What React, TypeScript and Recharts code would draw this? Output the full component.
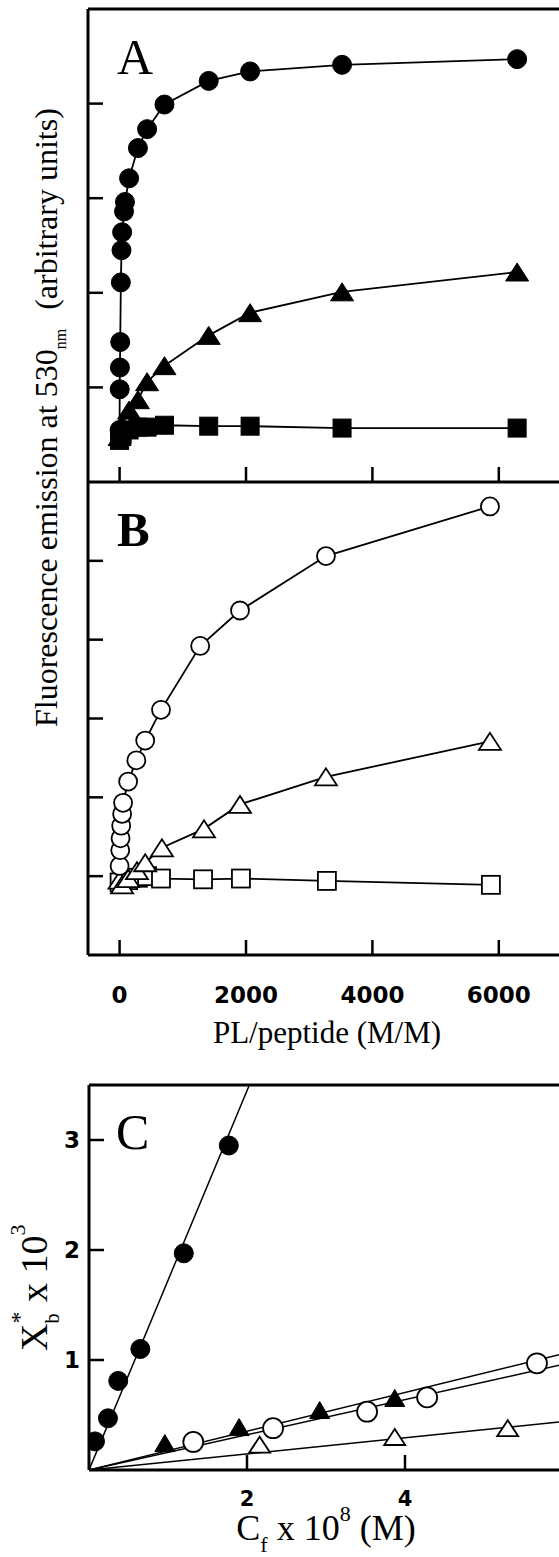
import React from 'react';
import { ComposedChart, Scatter, XAxis, YAxis, ReferenceLine } from 'recharts';

// ---------- Panel A (filled symbols) ----------
const A_CIRCLE_X = [0, 2, 5, 10, 20, 30, 40, 70, 85, 150, 290, 435, 710, 1410, 2065, 3520, 6290];
const A_CIRCLE_Y = [0.55, 0.98, 1.21, 1.48, 2.11, 2.45, 2.64, 2.86, 2.96, 3.21, 3.53, 3.73, 3.99, 4.24, 4.34, 4.41, 4.47];
const A_TRI_X = [0, 40, 150, 290, 435, 710, 1410, 2065, 3520, 6290];
const A_TRI_Y = [0.48, 0.6, 0.76, 0.87, 1.06, 1.23, 1.55, 1.79, 2.01, 2.22];
const A_SQ_X = [0, 40, 150, 290, 435, 710, 1410, 2065, 3520, 6290];
const A_SQ_Y = [0.44, 0.5, 0.55, 0.58, 0.58, 0.6, 0.59, 0.59, 0.57, 0.57];

// ---------- Panel B (open symbols) ----------
const B_CIRCLE_X = [0, 10, 15, 25, 40, 55, 135, 265, 405, 655, 1275, 1905, 3265, 5860];
const B_CIRCLE_Y = [0.13, 0.33, 0.48, 0.64, 0.79, 0.93, 1.2, 1.47, 1.72, 2.11, 2.92, 3.37, 4.06, 4.69];
const B_TRI_X = [0, 40, 135, 275, 405, 670, 1335, 1905, 3265, 5860];
const B_TRI_Y = [-0.05, -0.11, -0.03, 0.07, 0.17, 0.36, 0.6, 0.91, 1.26, 1.71];
const B_SQ_X = [0, 135, 290, 435, 655, 1320, 1920, 3280, 5875];
const B_SQ_Y = [-0.08, -0.05, -0.02, 0.0, -0.03, -0.04, -0.03, -0.06, -0.11];

// ---------- Panel C ----------
const C_FCIRCLE_X = [0.076, 0.24, 0.37, 0.65, 1.2, 1.77];
const C_FCIRCLE_Y = [0.26, 0.47, 0.81, 1.1, 1.97, 2.95];
const C_FTRI_X = [0.96, 1.9, 2.92, 3.87];
const C_FTRI_Y = [0.245, 0.39, 0.545, 0.655];
const C_OCIRCLE_X = [1.32, 2.33, 3.52, 4.28, 5.67];
const C_OCIRCLE_Y = [0.255, 0.38, 0.53, 0.66, 0.97];
const C_OTRI_X = [2.16, 3.87, 5.3];
const C_OTRI_Y = [0.23, 0.3, 0.38];
// fitted straight lines (end points)
const C_FIT_FCIRCLE_X = [0, 2.03];
const C_FIT_FCIRCLE_Y = [0, 3.5];
const C_FIT_FTRI_X = [0, 6];
const C_FIT_FTRI_Y = [0, 1.056];
const C_FIT_OCIRCLE_X = [0, 6];
const C_FIT_OCIRCLE_Y = [0, 0.96];
const C_FIT_OTRI_X = [0, 6];
const C_FIT_OTRI_Y = [0, 0.44];

// ---------- ticks ----------
const AB_X_TICKS = [0, 2000, 4000, 6000];
const A_Y_TICKS = [1, 2, 3, 4];
const B_Y_TICKS = [0, 1, 2, 3, 4];
const C_X_TICKS = [2, 4];
const C_Y_TICKS = [1, 2, 3];

const SERIF = '"Liberation Serif", "Times New Roman", serif';
const SANS = '"DejaVu Sans", sans-serif';

const zip = (xs: number[], ys: number[]) => xs.map((x, i) => ({ x, y: ys[i] }));

const filledCircle = (r: number) => (p: any) => (
  <circle cx={p.cx} cy={p.cy} r={r} fill="#000" stroke="#000" strokeWidth={1} />
);
const openCircle = (r: number) => (p: any) => (
  <circle cx={p.cx} cy={p.cy} r={r} fill="#fff" stroke="#000" strokeWidth={1.8} />
);
const triangle = (w: number, h: number, filled: boolean) => (p: any) => (
  <polygon
    points={`${p.cx},${p.cy - h / 2} ${p.cx - w / 2},${p.cy + h / 2} ${p.cx + w / 2},${p.cy + h / 2}`}
    fill={filled ? '#000' : '#fff'}
    stroke="#000"
    strokeWidth={filled ? 1 : 1.8}
  />
);
const square = (s: number, filled: boolean) => (p: any) => (
  <rect
    x={p.cx - s / 2}
    y={p.cy - s / 2}
    width={s}
    height={s}
    fill={filled ? '#000' : '#fff'}
    stroke="#000"
    strokeWidth={filled ? 1 : 1.8}
  />
);
const noShape = () => <g />;

const AXIS = { stroke: '#000', strokeWidth: 3 };
const CONNECT = { stroke: '#000', strokeWidth: 1.8 };
const FIT = { stroke: '#000', strokeWidth: 1.5 };

// inward y ticks
const yTick = (axisX: number, label: boolean, fs: number, labelRight: number) => (p: any) => (
  <g>
    <line x1={axisX} x2={axisX + 15} y1={p.y} y2={p.y} stroke="#000" strokeWidth={2.5} />
    {label && (
      <text
        x={labelRight}
        y={p.y + fs * 0.36}
        textAnchor="end"
        fontFamily={SANS}
        fontWeight="bold"
        fontSize={fs}
        fill="#000"
      >
        {p.payload.value}
      </text>
    )}
  </g>
);
// inward x ticks
const xTick = (axisY: number, label: boolean, fs: number, labelY: number) => (p: any) => (
  <g>
    <line x1={p.x} x2={p.x} y1={axisY} y2={axisY - 15} stroke="#000" strokeWidth={2.5} />
    {label && (
      <text
        x={p.x}
        y={labelY}
        textAnchor="middle"
        fontFamily={SANS}
        fontWeight="bold"
        fontSize={fs}
        fill="#000"
      >
        {p.payload.value}
      </text>
    )}
  </g>
);

const TextsA = () => (
  <g>
    <text x={117} y={74} fontFamily={SERIF} fontSize={50} fill="#000">
      A
    </text>
  </g>
);

const TextsB = () => (
  <g>
    <text x={117} y={546} fontFamily={SERIF} fontWeight="bold" fontSize={49} fill="#000">
      B
    </text>
    <text
      transform="rotate(-90 57 727)"
      x={57}
      y={727}
      fontFamily={SERIF}
      fontSize={32}
      fill="#000"
    >
      Fluorescence emission at 530
      <tspan fontSize={16} dy={9}>
        nm
      </tspan>
      <tspan dx={19} dy={-9}>
        (arbitrary units)
      </tspan>
    </text>
    <text x={327} y={1043} textAnchor="middle" fontFamily={SERIF} fontSize={31} fill="#000">
      PL/peptide (M/M)
    </text>
  </g>
);

const TextsC = () => (
  <g>
    <text x={116} y={1149} fontFamily={SERIF} fontSize={50} fill="#000">
      C
    </text>
    <text
      transform="rotate(-90 47 1351)"
      x={47}
      y={1351}
      fontFamily={SERIF}
      fontSize={38}
      fill="#000"
    >
      X
      <tspan fontSize={20} dy={12}>
        b
      </tspan>
      <tspan fontSize={24} dx={-10} dy={-32}>
        *
      </tspan>
      <tspan fontSize={38} dy={20}>
        {' x 10'}
      </tspan>
      <tspan fontSize={22} dy={-22}>
        3
      </tspan>
    </text>
    <text x={326} y={1540} textAnchor="middle" fontFamily={SERIF} fontSize={36} fill="#000">
      C
      <tspan fontSize={22} dy={12}>
        f
      </tspan>
      <tspan dy={-12}>{' x 10'}</tspan>
      <tspan fontSize={22} dy={-19}>
        8
      </tspan>
      <tspan dy={19}>{' (M)'}</tspan>
    </text>
  </g>
);

export default function App() {
  return (
    <div
      style={{
        position: 'absolute',
        left: 0,
        top: 0,
        width: 559,
        height: 1557,
        overflow: 'hidden',
        background: '#fff',
      }}
    >
      {/* Panel A */}
      <div style={{ position: 'absolute', left: 0, top: 0 }}>
        <ComposedChart width={600} height={492} margin={{ top: 9, right: 38, bottom: 0, left: 0 }}>
          <XAxis
            type="number"
            dataKey="x"
            domain={[-500, 7000]}
            ticks={AB_X_TICKS}
            interval={0}
            allowDataOverflow
            height={10}
            axisLine={AXIS}
            tickLine={false}
            tickSize={0}
            tickMargin={0}
            tick={xTick(482, false, 23, 0)}
          />
          <YAxis
            type="number"
            dataKey="y"
            domain={[0, 5]}
            ticks={A_Y_TICKS}
            interval={0}
            allowDataOverflow
            width={88}
            axisLine={AXIS}
            tickLine={false}
            tickSize={0}
            tickMargin={0}
            tick={yTick(88, false, 22, 78)}
            label={<TextsA />}
          />
          <ReferenceLine y={5} stroke="#000" strokeWidth={3} />
          <Scatter data={zip(A_SQ_X, A_SQ_Y)} line={CONNECT} lineType="joint" shape={square(18, true)} isAnimationActive={false} />
          <Scatter data={zip(A_TRI_X, A_TRI_Y)} line={CONNECT} lineType="joint" shape={triangle(23, 18, true)} isAnimationActive={false} />
          <Scatter data={zip(A_CIRCLE_X, A_CIRCLE_Y)} line={CONNECT} lineType="joint" shape={filledCircle(9.5)} isAnimationActive={false} />
        </ComposedChart>
      </div>

      {/* Panel B */}
      <div style={{ position: 'absolute', left: 0, top: 0 }}>
        <ComposedChart width={600} height={1060} margin={{ top: 482, right: 38, bottom: 0, left: 0 }}>
          <XAxis
            type="number"
            dataKey="x"
            domain={[-500, 7000]}
            ticks={AB_X_TICKS}
            interval={0}
            allowDataOverflow
            height={105}
            axisLine={AXIS}
            tickLine={false}
            tickSize={0}
            tickMargin={0}
            tick={xTick(955, true, 23, 1003)}
          />
          <YAxis
            type="number"
            dataKey="y"
            domain={[-1, 5]}
            ticks={B_Y_TICKS}
            interval={0}
            allowDataOverflow
            width={88}
            axisLine={AXIS}
            tickLine={false}
            tickSize={0}
            tickMargin={0}
            tick={yTick(88, false, 22, 78)}
            label={<TextsB />}
          />
          <Scatter data={zip(B_SQ_X, B_SQ_Y)} line={CONNECT} lineType="joint" shape={square(18, false)} isAnimationActive={false} />
          <Scatter data={zip(B_TRI_X, B_TRI_Y)} line={CONNECT} lineType="joint" shape={triangle(22, 17, false)} isAnimationActive={false} />
          <Scatter data={zip(B_CIRCLE_X, B_CIRCLE_Y)} line={CONNECT} lineType="joint" shape={openCircle(9)} isAnimationActive={false} />
        </ComposedChart>
      </div>

      {/* Panel C */}
      <div style={{ position: 'absolute', left: 0, top: 0 }}>
        <ComposedChart width={600} height={1557} margin={{ top: 1085, right: 37, bottom: 0, left: 0 }}>
          <XAxis
            type="number"
            dataKey="x"
            domain={[0, 6]}
            ticks={C_X_TICKS}
            interval={0}
            allowDataOverflow
            height={87}
            axisLine={AXIS}
            tickLine={false}
            tickSize={0}
            tickMargin={0}
            tick={xTick(1470, true, 21, 1506)}
          />
          <YAxis
            type="number"
            dataKey="y"
            domain={[0, 3.5]}
            ticks={C_Y_TICKS}
            interval={0}
            allowDataOverflow
            width={89}
            axisLine={AXIS}
            tickLine={false}
            tickSize={0}
            tickMargin={0}
            tick={yTick(89, true, 23, 80)}
            label={<TextsC />}
          />
          <ReferenceLine y={3.5} stroke="#000" strokeWidth={3} />
          <Scatter data={zip(C_FIT_FCIRCLE_X, C_FIT_FCIRCLE_Y)} line={FIT} lineType="joint" shape={noShape} isAnimationActive={false} />
          <Scatter data={zip(C_FIT_FTRI_X, C_FIT_FTRI_Y)} line={FIT} lineType="joint" shape={noShape} isAnimationActive={false} />
          <Scatter data={zip(C_FIT_OCIRCLE_X, C_FIT_OCIRCLE_Y)} line={FIT} lineType="joint" shape={noShape} isAnimationActive={false} />
          <Scatter data={zip(C_FIT_OTRI_X, C_FIT_OTRI_Y)} line={FIT} lineType="joint" shape={noShape} isAnimationActive={false} />
          <Scatter data={zip(C_FTRI_X, C_FTRI_Y)} shape={triangle(20, 17, true)} isAnimationActive={false} />
          <Scatter data={zip(C_OTRI_X, C_OTRI_Y)} shape={triangle(21, 16, false)} isAnimationActive={false} />
          <Scatter data={zip(C_OCIRCLE_X, C_OCIRCLE_Y)} shape={openCircle(10)} isAnimationActive={false} />
          <Scatter data={zip(C_FCIRCLE_X, C_FCIRCLE_Y)} shape={filledCircle(9.5)} isAnimationActive={false} />
        </ComposedChart>
      </div>
    </div>
  );
}
